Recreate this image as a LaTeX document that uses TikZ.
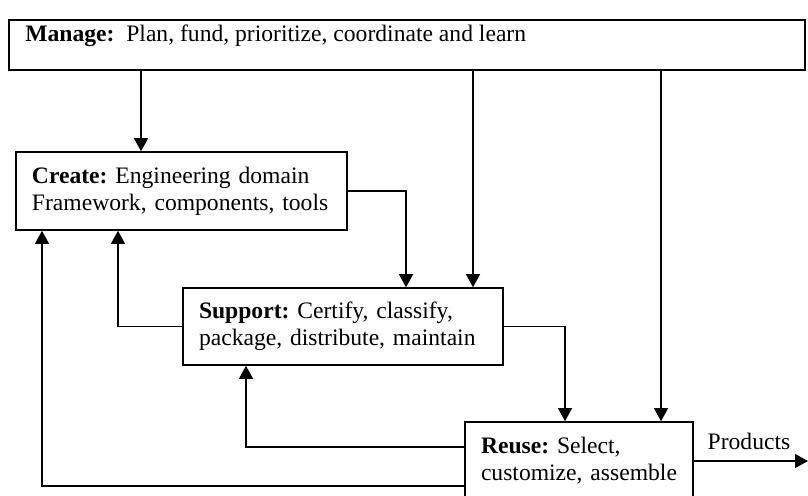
\documentclass[tikz,border=0pt]{standalone}
\usepackage{fontspec}
\setmainfont{Liberation Serif}
\usetikzlibrary{arrows.meta}

\tikzset{
  box/.style={draw, line width=0.8pt, align=left, inner xsep=8pt, inner ysep=0pt},
  arr/.style={line width=0.6pt, -{Triangle[width=7pt,length=6.5pt]}}
}

\begin{document}
\frenchspacing
\begin{tikzpicture}[x=0.5pt, y=-0.5pt, font=\fontsize{11.8}{13.5}\selectfont]
            \useasboundingbox (0,0) rectangle (808,495);

            \node[box, minimum width=398pt, minimum height=25pt] (manage) at (407,45) {};
            \node[anchor=west, inner sep=0pt] (managetext) at (25,36) {\textbf{Manage:}\ \ Plan, fund, prioritize, coordinate and learn};
            \node[box, text width=149.5pt, minimum height=39pt] (create) at (181.5,191) {\textbf{Create:} Engineering domain\\Framework, components, tools};
            \node[box, text width=144pt, minimum height=38.5pt] (support) at (343,326.5) {\textbf{Support:} Certify, classify,\\package, distribute, maintain};
            \node[box, text width=98pt, minimum height=39pt] (reuse) at (579,461) {\textbf{Reuse:} Select,\\customize, assemble};
            \node (products) at (749,441) {Products};

            \coordinate (xcreate) at (141,0);
            \coordinate (xsupport) at (473,0);
            \coordinate (xreuse) at (661,0);
            \coordinate (xfeed) at (406,0);
            \coordinate (xback) at (118,0);
            \coordinate (xpass) at (565,0);
            \coordinate (xret) at (246,0);
            \coordinate (xfar) at (42,0);
            \coordinate (prodend) at (808,0);

            \draw[arr] (manage.south -| xcreate) -- (create.north -| xcreate);
            \draw[arr] (manage.south -| xsupport) -- (support.north -| xsupport);
            \draw[arr] (manage.south -| xreuse) -- (reuse.north -| xreuse);
            \draw[arr] (create.east) -| (support.north -| xfeed);
            \draw[arr] (support.west) -| (create.south -| xback);
            \draw[arr] (support.east) -| (reuse.north -| xpass);
            \draw[arr] ([yshift=7pt]reuse.west) -| (support.south -| xret);
            \draw[arr] ([yshift=-12.5pt]reuse.west) -| (create.south -| xfar);
            \draw[arr] (reuse.east) -- (reuse.east -| prodend);
        \end{tikzpicture}
\end{document}
